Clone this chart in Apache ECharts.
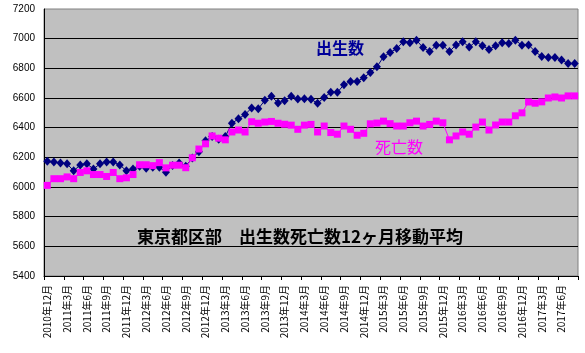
<!DOCTYPE html>
<html>
<head>
<meta charset="utf-8">
<script src="https://cdn.jsdelivr.net/npm/echarts@6/dist/echarts.min.js"></script>
<style>
  html, body { margin: 0; padding: 0; background: #fff; }
  #chart { width: 585px; height: 353px; }
</style>
</head>
<body>
<div id="chart"></div>
<script>
// 月ラベル 2010年12月〜2017年8月
const months = [
  '2010年12月',
  '2011年1月', '2011年2月', '2011年3月', '2011年4月', '2011年5月', '2011年6月',
  '2011年7月', '2011年8月', '2011年9月', '2011年10月', '2011年11月', '2011年12月',
  '2012年1月', '2012年2月', '2012年3月', '2012年4月', '2012年5月', '2012年6月',
  '2012年7月', '2012年8月', '2012年9月', '2012年10月', '2012年11月', '2012年12月',
  '2013年1月', '2013年2月', '2013年3月', '2013年4月', '2013年5月', '2013年6月',
  '2013年7月', '2013年8月', '2013年9月', '2013年10月', '2013年11月', '2013年12月',
  '2014年1月', '2014年2月', '2014年3月', '2014年4月', '2014年5月', '2014年6月',
  '2014年7月', '2014年8月', '2014年9月', '2014年10月', '2014年11月', '2014年12月',
  '2015年1月', '2015年2月', '2015年3月', '2015年4月', '2015年5月', '2015年6月',
  '2015年7月', '2015年8月', '2015年9月', '2015年10月', '2015年11月', '2015年12月',
  '2016年1月', '2016年2月', '2016年3月', '2016年4月', '2016年5月', '2016年6月',
  '2016年7月', '2016年8月', '2016年9月', '2016年10月', '2016年11月', '2016年12月',
  '2017年1月', '2017年2月', '2017年3月', '2017年4月', '2017年5月', '2017年6月',
  '2017年7月', '2017年8月'
]

// 出生数 12ヶ月移動平均
const births = [
  6173,
  6169, 6162, 6156, 6109, 6149, 6156, 6122, 6156, 6169, 6169, 6149, 6109,
  6122, 6140, 6127, 6133, 6133, 6100, 6145, 6162, 6140, 6195, 6238, 6311,
  6340, 6322, 6340, 6429, 6460, 6489, 6533, 6527, 6584, 6611, 6567, 6582,
  6611, 6593, 6595, 6592, 6564, 6604, 6638, 6638, 6690, 6712, 6712, 6737,
  6772, 6810, 6878, 6907, 6933, 6980, 6973, 6989, 6940, 6913, 6956, 6956,
  6913, 6958, 6980, 6944, 6980, 6953, 6927, 6953, 6973, 6967, 6989, 6956,
  6958, 6913, 6880, 6873, 6873, 6856, 6833, 6833
]

// 死亡数 12ヶ月移動平均
const deaths = [
  6011,
  6056, 6056, 6068, 6056, 6098, 6109, 6084, 6084, 6071, 6098, 6056, 6062,
  6084, 6150, 6150, 6144, 6164, 6129, 6147, 6147, 6130, 6197, 6256, 6291,
  6344, 6329, 6318, 6371, 6384, 6371, 6440, 6430, 6438, 6442, 6430, 6423,
  6417, 6389, 6417, 6422, 6371, 6411, 6367, 6356, 6411, 6389, 6349, 6362,
  6426, 6431, 6444, 6427, 6411, 6411, 6433, 6444, 6411, 6422, 6444, 6433,
  6318, 6344, 6371, 6356, 6404, 6438, 6384, 6418, 6438, 6438, 6480, 6500,
  6573, 6565, 6574, 6600, 6607, 6600, 6614, 6614
]

const chart = echarts.init(document.getElementById('chart'))
const jpFont = '"Noto Sans CJK JP", sans-serif'

const option = {
  animation: false,
  backgroundColor: '#fff',
  grid: {
    left: 44,
    top: 9,
    right: 7,
    bottom: 77,
    show: true,
    backgroundColor: '#C0C0C0',
    borderColor: '#808080',
    borderWidth: 1
  },
  xAxis: {
    type: 'category',
    data: months,
    boundaryGap: true,
    axisLine: { lineStyle: { color: '#000', width: 1 } },
    axisTick: { show: true, interval: 2, length: 4, lineStyle: { color: '#000' } },
    axisLabel: {
      interval: 2,
      rotate: 90,
      margin: 9,
      color: '#000',
      fontSize: 10,
      fontFamily: jpFont
    },
    splitLine: { show: false }
  },
  yAxis: {
    type: 'value',
    min: 5400,
    max: 7200,
    interval: 200,
    axisLine: { show: true, lineStyle: { color: '#000', width: 1 } },
    axisTick: { show: false },
    axisLabel: {
      margin: 9,
      color: '#000',
      fontSize: 10,
      fontFamily: 'Arial, "Liberation Sans", sans-serif',
      formatter: v => String(v)
    },
    splitLine: {
      show: true,
      showMaxLine: false,
      lineStyle: { color: '#000', width: 1 }
    }
  },
  series: [
    {
      name: '出生数',
      type: 'line',
      data: births,
      symbol: 'diamond',
      symbolSize: [8, 9],
      showAllSymbol: true,
      itemStyle: { color: '#000080' },
      lineStyle: { color: '#000080', width: 1 }
    },
    {
      name: '死亡数',
      type: 'line',
      data: deaths,
      symbol: 'rect',
      symbolSize: 7,
      showAllSymbol: true,
      itemStyle: { color: '#FF00FF' },
      lineStyle: { color: '#FF00FF', width: 1 }
    }
  ],
  graphic: [
    {
      type: 'text',
      left: 316,
      top: 40,
      style: {
        text: '出生数',
        fill: '#000099',
        font: 'bold 16px "Noto Sans CJK JP", sans-serif'
      }
    },
    {
      type: 'text',
      left: 375,
      top: 139,
      style: {
        text: '死亡数',
        fill: '#FF00FF',
        font: '16px "Noto Sans CJK JP", sans-serif'
      }
    },
    {
      type: 'text',
      left: 137,
      top: 228,
      style: {
        text: '東京都区部　出生数死亡数12ヶ月移動平均',
        fill: '#000',
        font: 'bold 17px "Noto Sans CJK JP", sans-serif'
      }
    }
  ]
}

chart.setOption(option)
</script>
</body>
</html>
